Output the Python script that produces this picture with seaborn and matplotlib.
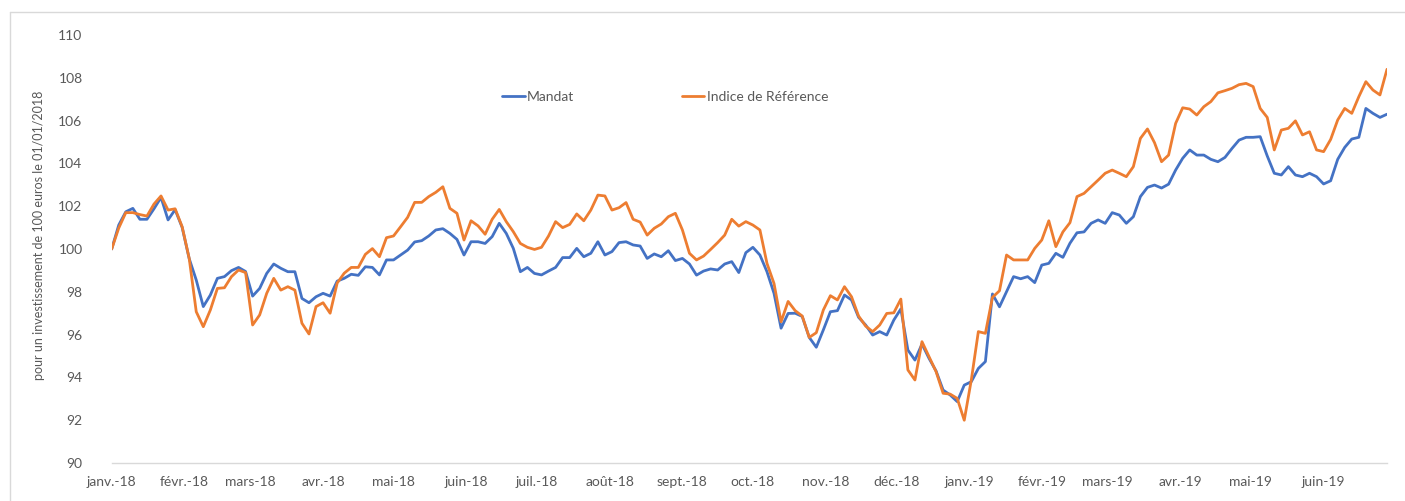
import pandas as pd
import numpy as np
import matplotlib.pyplot as plt
from matplotlib.lines import Line2D
import seaborn as sns

# ---------------------------------------------------------------
# Données (un point tous les 3 jours)
# ---------------------------------------------------------------
dates = pd.date_range("2018-01-01", periods=182, freq="3D")

mandat = [
    100.0, 101.12, 101.74, 101.9, 101.39, 101.39, 101.88, 102.41, 101.36, 101.84,
    101.01, 99.55, 98.55, 97.31, 97.85, 98.63, 98.71, 98.99, 99.14, 98.95,
    97.8, 98.16, 98.86, 99.3, 99.1, 98.94, 98.94, 97.69, 97.49, 97.77,
    97.93, 97.8, 98.5, 98.63, 98.82, 98.77, 99.17, 99.14, 98.79, 99.49,
    99.49, 99.72, 99.95, 100.33, 100.39, 100.61, 100.89, 100.95, 100.73, 100.45,
    99.72, 100.34, 100.34, 100.26, 100.58, 101.2, 100.73, 100.03, 98.94, 99.14,
    98.86, 98.79, 98.97, 99.14, 99.6, 99.6, 100.03, 99.64, 99.8, 100.34,
    99.72, 99.88, 100.3, 100.34, 100.19, 100.14, 99.56, 99.77, 99.64, 99.92,
    99.46, 99.56, 99.3, 98.78, 98.97, 99.07, 99.02, 99.3, 99.41, 98.9,
    99.83, 100.08, 99.72, 98.94, 97.93, 96.3, 96.99, 97.0, 96.85, 95.87,
    95.41, 96.22, 97.07, 97.12, 97.85, 97.62, 96.81, 96.45, 95.98, 96.14,
    95.98, 96.68, 97.2, 95.28, 94.81, 95.56, 94.89, 94.3, 93.41, 93.18,
    92.87, 93.64, 93.8, 94.42, 94.74, 97.9, 97.3, 98.01, 98.71, 98.61,
    98.71, 98.43, 99.25, 99.33, 99.8, 99.61, 100.27, 100.76, 100.8, 101.2,
    101.36, 101.2, 101.7, 101.59, 101.2, 101.51, 102.45, 102.88, 102.99, 102.85,
    103.03, 103.69, 104.24, 104.63, 104.39, 104.39, 104.19, 104.08, 104.28, 104.7,
    105.09, 105.22, 105.22, 105.25, 104.35, 103.54, 103.46, 103.85, 103.46, 103.38,
    103.54, 103.38, 103.04, 103.19, 104.19, 104.75, 105.14, 105.22, 106.57, 106.34,
    106.15, 106.3,
]

indice = [
    100.0, 100.98, 101.7, 101.7, 101.61, 101.54, 102.1, 102.48, 101.82, 101.88,
    101.04, 99.56, 97.07, 96.37, 97.15, 98.16, 98.19, 98.71, 99.02, 98.9,
    96.45, 96.92, 97.93, 98.63, 98.08, 98.24, 98.08, 96.53, 96.03, 97.31,
    97.49, 97.0, 98.41, 98.87, 99.14, 99.14, 99.75, 100.02, 99.64, 100.53,
    100.61, 101.04, 101.48, 102.18, 102.18, 102.45, 102.65, 102.91, 101.9, 101.67,
    100.42, 101.32, 101.08, 100.69, 101.39, 101.85, 101.28, 100.81, 100.26, 100.08,
    99.98, 100.08, 100.61, 101.28, 101.0, 101.15, 101.64, 101.32, 101.82, 102.52,
    102.48, 101.82, 101.93, 102.17, 101.39, 101.26, 100.65, 100.97, 101.17, 101.51,
    101.67, 100.89, 99.8, 99.49, 99.67, 99.98, 100.3, 100.65, 101.39, 101.07,
    101.28, 101.12, 100.89, 99.33, 98.39, 96.6, 97.55, 97.12, 96.87, 95.87,
    96.09, 97.15, 97.82, 97.62, 98.24, 97.77, 96.87, 96.4, 96.14, 96.45,
    96.99, 97.02, 97.66, 94.35, 93.88, 95.67, 94.97, 94.27, 93.26, 93.22,
    93.02, 92.0, 93.88, 96.14, 96.06, 97.74, 98.05, 99.72, 99.49, 99.49,
    99.49, 100.03, 100.42, 101.32, 100.11, 100.8, 101.23, 102.45, 102.6, 102.91,
    103.22, 103.54, 103.69, 103.54, 103.38, 103.85, 105.17, 105.61, 104.97, 104.08,
    104.39, 105.87, 106.6, 106.54, 106.26, 106.65, 106.89, 107.3, 107.4, 107.51,
    107.68, 107.74, 107.59, 106.57, 106.15, 104.63, 105.56, 105.64, 105.99, 105.33,
    105.48, 104.63, 104.55, 105.12, 106.03, 106.57, 106.34, 107.12, 107.82, 107.43,
    107.2, 108.4,
]

series_noms = ["Mandat", "Indice de Référence"]
couleurs = ["#4472C4", "#ED7D31"]

mois_ticks = pd.date_range("2018-01-01", "2019-06-01", freq="MS")
mois_labels = ["janv.-18", "févr.-18", "mars-18", "avr.-18", "mai-18", "juin-18",
               "juil.-18", "août-18", "sept.-18", "oct.-18", "nov.-18", "déc.-18",
               "janv.-19", "févr.-19", "mars-19", "avr.-19", "mai-19", "juin-19"]

y_ticks = list(range(90, 111, 2))
y_label = "pour un investissement de 100 euros le 01/01/2018"

# ---------------------------------------------------------------
# Style
# ---------------------------------------------------------------
sns.set_theme(style="white")
plt.rcParams["font.family"] = ["Lato", "DejaVu Sans"]
GRIS = "#595959"

df = pd.DataFrame({
    "date": list(dates) * 2,
    "valeur": mandat + indice,
    "serie": [series_noms[0]] * len(mandat) + [series_noms[1]] * len(indice),
})

fig = plt.figure(figsize=(14.05, 5.01), dpi=100)
ax = fig.add_axes([0.0795, 0.0758, 0.9077, 0.8543])

sns.lineplot(data=df, x="date", y="valeur", hue="serie",
             palette=dict(zip(series_noms, couleurs)), linewidth=2,
             ax=ax, legend=False)

ax.set_xlim(pd.Timestamp("2018-01-01"), pd.Timestamp("2019-06-28"))
ax.set_ylim(90, 110)
ax.set_yticks(y_ticks)
ax.set_yticklabels([str(v) for v in y_ticks], fontsize=10, color=GRIS)
ax.set_xticks(mois_ticks)
ax.set_xticklabels(mois_labels, fontsize=10, color=GRIS)
ax.tick_params(axis="y", length=0, pad=21)
ax.tick_params(axis="x", length=0, pad=9)

ax.set_xlabel("")
ax.set_ylabel(y_label, fontsize=9, color=GRIS)
ax.yaxis.set_label_coords(-0.052, 0.533)

for s in ["top", "right", "left"]:
    ax.spines[s].set_visible(False)
ax.spines["bottom"].set_color("#D9D9D9")
ax.spines["bottom"].set_linewidth(1)

handles = [Line2D([0], [0], color=c, lw=2) for c in couleurs]
ax.legend(handles, series_noms, loc="center", bbox_to_anchor=(0.434, 0.855),
          ncol=2, frameon=False, fontsize=10, labelcolor=GRIS,
          handlelength=1.6, handletextpad=0.15, columnspacing=7.8)

# cadre du graphique (bord gauche et haut)
fig.add_artist(Line2D([10 / 1405, 10 / 1405], [0, 1 - 12 / 501],
                      color="#D9D9D9", lw=1, transform=fig.transFigure))
fig.add_artist(Line2D([10 / 1405, 1], [1 - 12 / 501, 1 - 12 / 501],
                      color="#D9D9D9", lw=1, transform=fig.transFigure))

fig.savefig("out.png", dpi=100, facecolor="white")
